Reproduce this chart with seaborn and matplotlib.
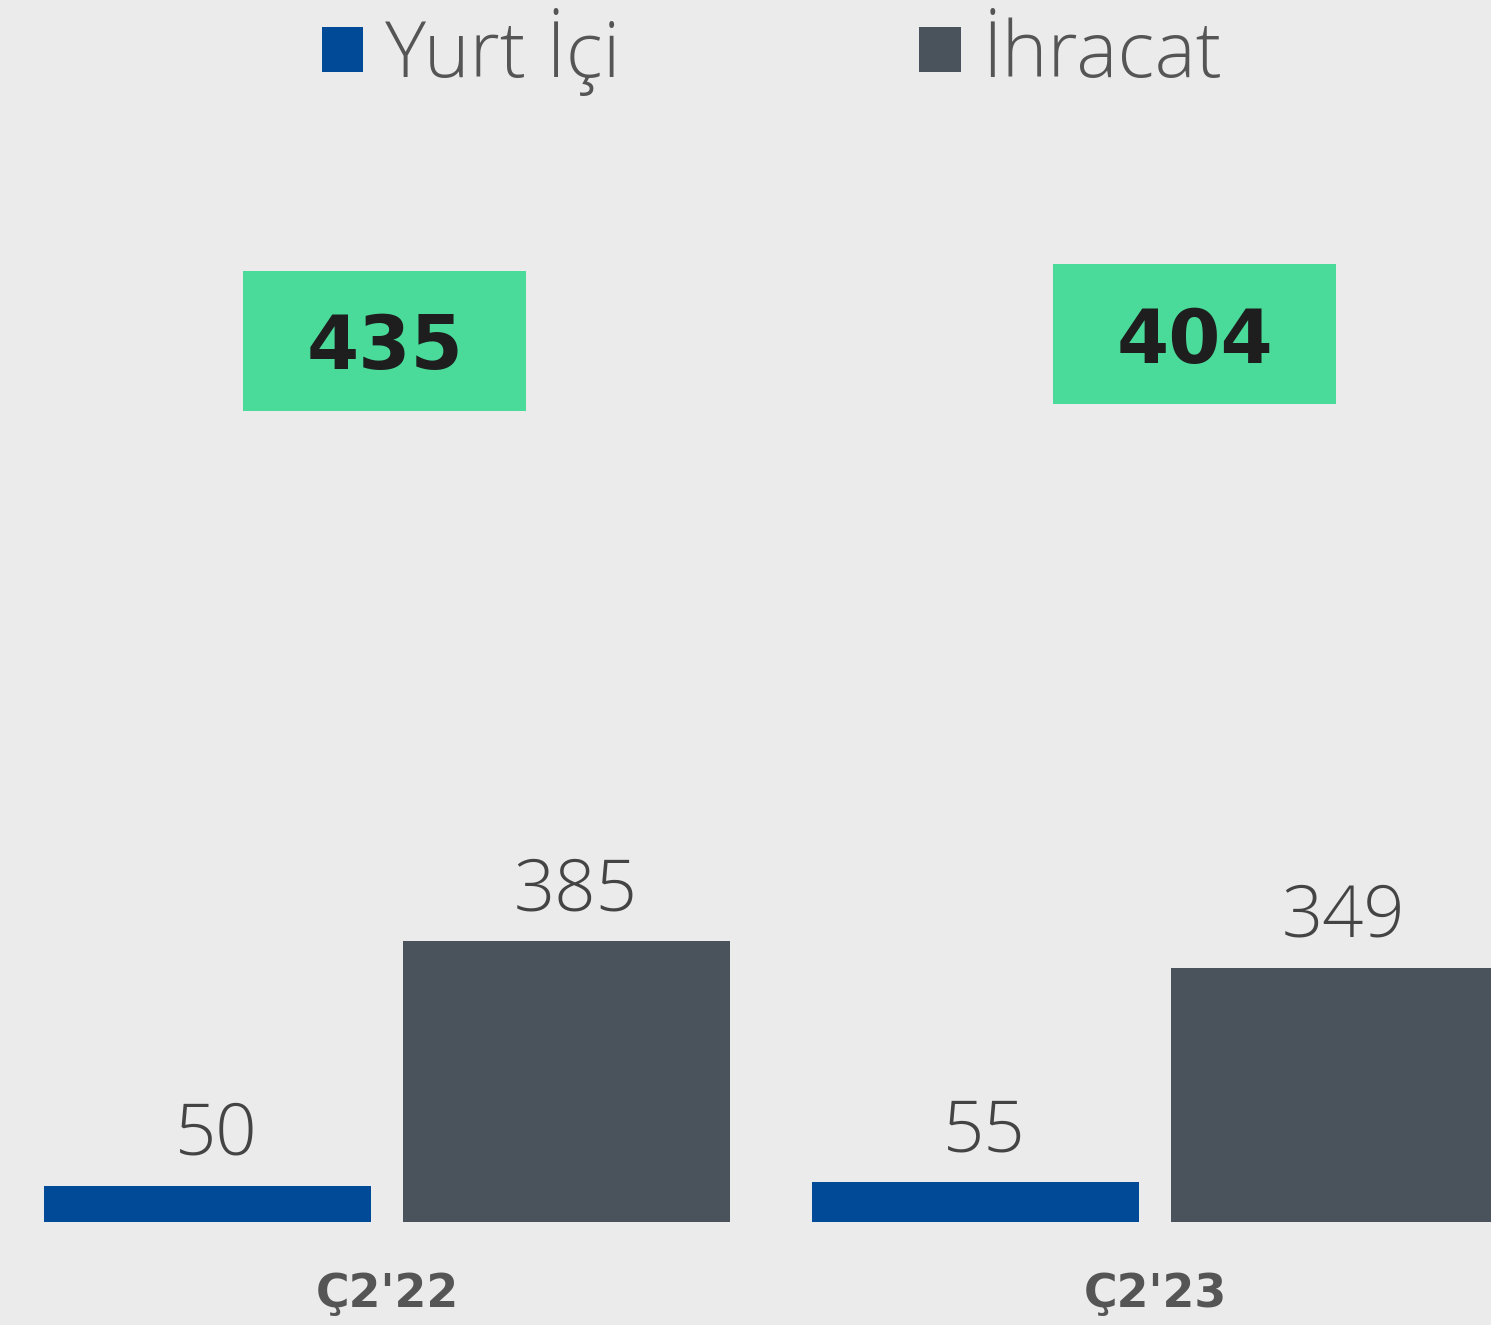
import pandas as pd
import matplotlib.pyplot as plt
from matplotlib.patches import Rectangle
import seaborn as sns

sns.set_style("white")
plt.rcParams['font.family'] = ['Open Sans', 'DejaVu Sans']

periods = ["Ç2'22", "Ç2'23"]
series = ["Yurt İçi", "İhracat"]
yurt_ici = [50, 55]
ihracat = [385, 349]
totals = [435, 404]

colors = {"Yurt İçi": "#004A98", "İhracat": "#4A525B"}
bg = "#EBEBEB"

df = pd.DataFrame({
    'period': periods * 2,
    'series': [series[0]] * 2 + [series[1]] * 2,
    'value': yurt_ici + ihracat,
})

fig = plt.figure(figsize=[14.91, 13.25], dpi=100, facecolor=bg)
ax = fig.add_axes([0, 103 / 1325, 1, 1222 / 1325])
ax.set_facecolor(bg)

sns.barplot(data=df, x='period', y='value', hue='series', palette=colors,
            width=0.935, gap=0.089, saturation=1, linewidth=0, ax=ax, legend=True)

px = 0.729  # pixels per unit
ax.set_ylim(0, 1222 / px)
ax.set_xlim(-387 / 768, (1491 - 387) / 768)

for c in ax.containers:
    anns = ax.bar_label(c, padding=10, fontsize=52, color='#444444', fontweight='light')
    for a in anns:
        a.xyann = (6.5, 10)

# total boxes
box_x = [-2.5 / 768, 1 + 39.5 / 768]
box_y = [(1222 - 341) / px, (1222 - 334) / px]
bw, bh = 283 / 768, 140 / px
for i, t in enumerate(totals):
    ax.add_patch(Rectangle((box_x[i] - bw / 2, box_y[i] - bh / 2), bw, bh,
                           facecolor='#4ADB9A', edgecolor='none', zorder=3))
    ax.text(box_x[i], box_y[i], str(t), ha='center', va='center_baseline', fontsize=54,
            fontweight='bold', family='DejaVu Sans', color='#1E1E1E', zorder=4)

handles, labels = ax.get_legend_handles_labels()
ax.get_legend().remove()
fig.legend(handles, labels, loc='center', bbox_to_anchor=(772 / 1491, 1 - 52 / 1325),
           ncol=2, frameon=False, handlelength=0.53, handleheight=0.52,
           handletextpad=0.28, columnspacing=3.85, borderpad=0, labelcolor='#555555',
           prop={'weight': 'light', 'size': 56})

ax.set_xlabel('')
ax.set_ylabel('')
ax.set_yticks([])
for s in ax.spines.values():
    s.set_visible(False)
ax.tick_params(axis='x', length=0, pad=36, labelsize=33, labelcolor='#555555')
for lab in ax.get_xticklabels():
    lab.set_fontweight('bold')
    lab.set_family('DejaVu Sans')

fig.savefig('out.png', dpi=100, facecolor=bg)
